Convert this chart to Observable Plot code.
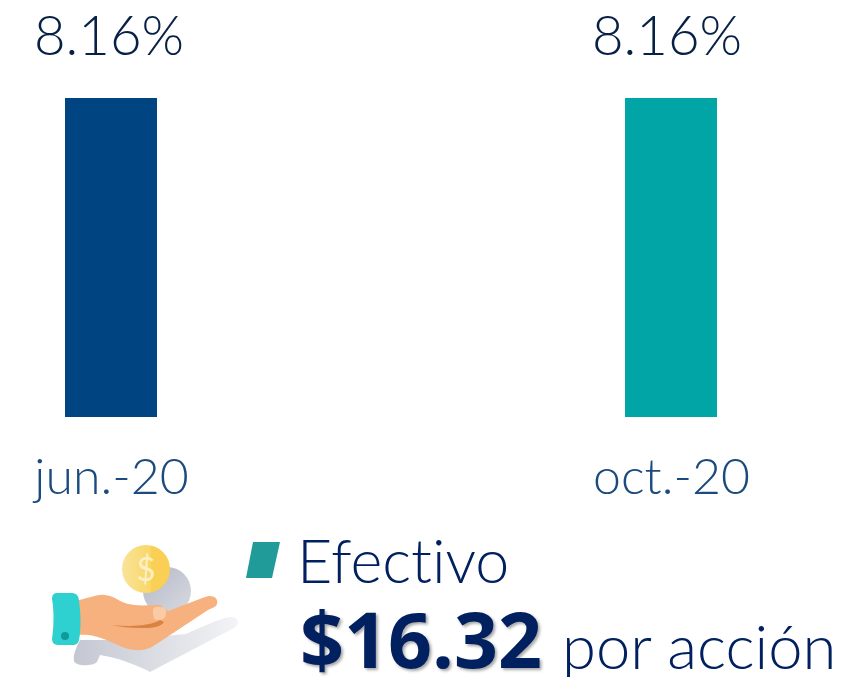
<!DOCTYPE html>
<html><head><meta charset="utf-8">
<script src="https://cdn.jsdelivr.net/npm/d3@7"></script>
<script src="https://cdn.jsdelivr.net/npm/@observablehq/plot@0.6"></script>
<style>
html,body{margin:0;padding:0;background:#fff;width:845px;height:677px;overflow:hidden}
#wrap{position:relative;width:845px;height:677px;font-family:Lato,sans-serif;font-weight:300;font-variant-ligatures:none}
#wrap>div{position:absolute;white-space:nowrap;color:#072146;line-height:1}
#chart svg{display:block}
</style></head><body>
<div id="wrap">
<div id="chart" style="left:0;top:0"></div>
<svg id="art" width="845" height="677" style="position:absolute;left:0;top:0">
<defs>
<linearGradient id="coin" x1="0" y1="0" x2="1" y2="0"><stop offset="0" stop-color="#f9e39a"/><stop offset=".6" stop-color="#f9d766"/><stop offset=".61" stop-color="#f9cf55"/></linearGradient>
<linearGradient id="sh" x1="0" y1="0" x2="1" y2="1"><stop offset="0" stop-color="#b4b8c6"/><stop offset="1" stop-color="#d8dbe2"/></linearGradient>
<linearGradient id="sh2" x1="0" y1="0" x2="1" y2="0"><stop offset="0" stop-color="#c4c7d2"/><stop offset="1" stop-color="#f3f4f6"/></linearGradient>
<filter id="soft"><feGaussianBlur stdDeviation=".5"/></filter>
</defs>
<g filter="url(#soft)">
<circle cx="167" cy="591" r="24" fill="url(#sh)"/>
<path d="M80 640 C76 648 73 655 74 661 C75 666 92 667 97 662 L100 655 C118 658 135 664 150 672 L234 628 C240 624 240 617 230 617 C220 618 200 628 186 634 L120 640 Z" fill="url(#sh2)"/>
<path d="M79 600 C90 598 97 594 105 595 C116 596 120 604 135 605 C145 606 150 605 160 605 L168 611 L205 597 C212 594 219 598 217 604 C216 607 212 608 208 610 L155 645 C145 652 135 651 125 648 C110 642 95 633 79 635 Z" fill="#f7b17f"/>
<path d="M112 625 C130 627 150 626 160 620 L164 622 C160 628 150 628 140 628 C130 628 120 627 112 625 Z" fill="#d9833f"/>
<path d="M153 610 C153 607 156 606 160 607 C165 607 167 610 166 614 C165 620 160 620 157 620 C154 620 153 617 153 610 Z" fill="#fbcba6"/>
<path d="M57 593 L72 593 C77 593 79 597 79 601 C81 615 81 630 79 640 C78 644 76 645 72 645 L58 645 C54 645 52 642 52 639 C54 625 54 610 52 599 C52 595 54 593 57 593 Z" fill="#2ed0d0"/>
<circle cx="65" cy="636" r="4" fill="#0f9b9b"/>
<circle cx="146" cy="569" r="24" fill="url(#coin)"/>
</g>
<text x="146" y="581" text-anchor="middle" font-family="Lato,sans-serif" font-weight="400" font-size="33" fill="#fdf0c4">$</text>
<polygon points="253,542 280,542 272,578 246,578" fill="#219a9a"/>
</svg>
<div style="left:297px;top:529px;font-size:61px;color:#002060">Efectivo</div>
<div style="left:300px;top:600px;font-size:77px;font-family:'Open Sans',sans-serif;font-weight:700;color:#002060;text-shadow:2px 2px 3px rgba(0,0,0,.35)">$16.32</div>
<div style="left:562px;top:615px;font-size:61.5px;color:#002060">por acción</div>
</div>
<script>
const periods = ["jun.-20", "oct.-20"];
const yields = [8.16, 8.16];
const barColors = ["#004481", "#02A5A5"];
const rows = periods.map((p, i) => ({p, v: yields[i], c: barColors[i]}));
const valueLabel = dx => ({x: "p", y: "v", text: d => d.v.toFixed(2) + "%", dx, dy: -61, fontSize: 54.5, fontWeight: 300, fill: "#072146"});
const chart = Plot.plot({
  width: 845, height: 520,
  marginTop: 0, marginRight: 0, marginBottom: 0, marginLeft: 0,
  style: {background: "transparent", fontFamily: "Lato,sans-serif"},
  x: {type: "band", domain: periods, range: [65, 717], paddingInner: 1 - 92 / 560, paddingOuter: 0, label: null},
  y: {domain: [0, 8.16], range: [417, 98], label: null, axis: null},
  marks: [
    Plot.barY(rows, {x: "p", y: "v", fill: "c"}),
    Plot.text(rows.slice(0, 1), valueLabel(-2.5)),
    Plot.text(rows.slice(1), valueLabel(-4.5)),
    Plot.axisX({tickSize: 0, tickPadding: 0, fontSize: 50, fontWeight: 300, fill: "#1a4a7e", dy: 41, label: null, anchor:"bottom", y: 0})
  ]
});
document.getElementById("chart").appendChild(chart);
</script>
</body></html>
